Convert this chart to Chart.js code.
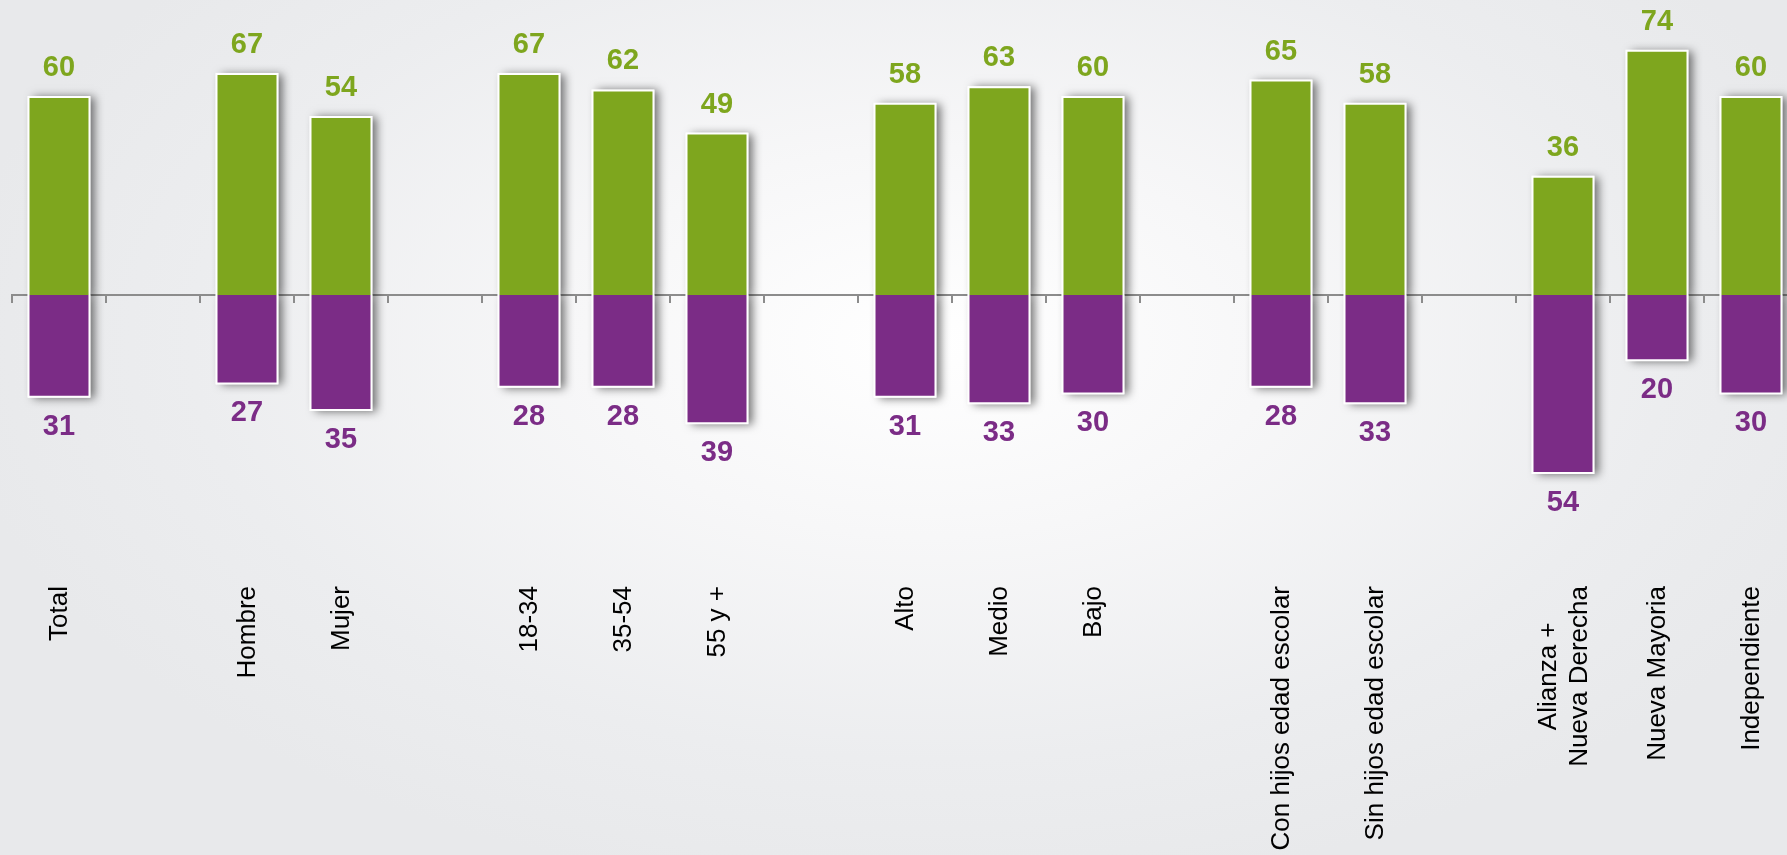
<!DOCTYPE html>
<html lang="es">
<head>
<meta charset="utf-8">
<title>Resultados por segmento</title>
<script src="https://cdn.jsdelivr.net/npm/chart.js@4.4.1/dist/chart.umd.min.js"></script>
<style>
  html, body { margin: 0; padding: 0; width: 1787px; height: 855px; overflow: hidden; }
  body {
    background: radial-gradient(ellipse 55% 65% at 52% 40%, #ffffff 0%, #f7f7f8 35%, #ecedef 75%, #e8e9eb 100%);
  }
  canvas { display: block; }
</style>
</head>
<body>
<canvas id="segChart" width="1800" height="855"></canvas>
<script>
// ── Data ──────────────────────────────────────────────────────
const categories = [
    'Total', '',
    'Hombre', 'Mujer', '',
    '18-34', '35-54', '55 y +', '',
    'Alto', 'Medio', 'Bajo', '',
    'Con hijos edad escolar', 'Sin hijos edad escolar', '',
    ['Alianza +', 'Nueva Derecha'], 'Nueva Mayoria', 'Independiente',
];
const positiveValues = [60, null, 67, 54, null, 67, 62, 49, null, 58, 63, 60, null, 65, 58, null, 36, 74, 60];
const negativeValues = [-31, null, -27, -35, null, -28, -28, -39, null, -31, -33, -30, null, -28, -33, null, -54, -20, -30];

const GREEN  = '#7ea61e';
const PURPLE = '#7b2c86';
const AXIS   = '#8c8c8c';
const FONT   = '"Liberation Sans", Arial, sans-serif';

Chart.defaults.font.family = FONT;

// ── Plugin: bar shadow + value labels ────────────────────────
// (BarElement clips to its own rect, so the shadow is cast by a
//  plain rect drawn underneath each bar)
const barDecor = {
    id: 'barDecor',
    beforeDatasetsDraw(chart) {
        const ctx = chart.ctx;
        ctx.save();
        ctx.shadowColor = 'rgba(0,0,0,0.55)';
        ctx.shadowBlur = 9;
        ctx.shadowOffsetX = 5;
        ctx.shadowOffsetY = 1;
        ctx.fillStyle = '#ffffff';
        chart.data.datasets.forEach((ds, i) => {
            chart.getDatasetMeta(i).data.forEach((bar, j) => {
                if (ds.data[j] == null) return;
                const { x, y, base, width } = bar.getProps(['x', 'y', 'base', 'width']);
                ctx.fillRect(x - width / 2, Math.min(y, base), width, Math.abs(base - y));
            });
        });
        ctx.restore();
    },
    afterDatasetsDraw(chart) {
        const ctx = chart.ctx;
        ctx.save();
        ctx.font = 'bold 29px ' + FONT;
        ctx.textAlign = 'center';
        ctx.textBaseline = 'middle';
        chart.data.datasets.forEach((ds, i) => {
            chart.getDatasetMeta(i).data.forEach((bar, j) => {
                const v = ds.data[j];
                if (v == null) return;
                ctx.fillStyle = ds.backgroundColor;
                const y = v >= 0 ? bar.y - 28 : bar.y + 29;
                ctx.fillText(String(Math.abs(v)), bar.x, y);
            });
        });
        ctx.restore();
    },
};

// ── Plugin: vertical category labels (multi-line centred) ─────
const categoryLabels = {
    id: 'categoryLabels',
    afterDraw(chart) {
        const ctx = chart.ctx;
        const scale = chart.scales.x;
        const top = chart.chartArea.bottom + 6;
        const lineH = 31;
        ctx.save();
        ctx.font = '26px ' + FONT;
        ctx.fillStyle = '#000000';
        ctx.textAlign = 'center';
        ctx.textBaseline = 'middle';
        chart.data.labels.forEach((label, i) => {
            const lines = [].concat(label).filter(Boolean);
            if (!lines.length) return;
            const w = Math.max(...lines.map(l => ctx.measureText(l).width));
            ctx.save();
            ctx.translate(scale.getPixelForTick(i), top);
            ctx.rotate(-Math.PI / 2);
            lines.forEach((line, k) => {
                ctx.fillText(line, -w / 2, (k - (lines.length - 1) / 2) * lineH + 1);
            });
            ctx.restore();
        });
        ctx.restore();
    },
};

// ── Chart ─────────────────────────────────────────────────────
new Chart(document.getElementById('segChart'), {
    type: 'bar',
    data: {
        labels: categories,
        datasets: [
            {
                data: positiveValues,
                backgroundColor: GREEN,
                borderColor: '#ffffff',
                borderWidth: 2,
                barPercentage: 0.67,
                categoryPercentage: 1,
            },
            {
                data: negativeValues,
                backgroundColor: PURPLE,
                borderColor: '#ffffff',
                borderWidth: 2,
                barPercentage: 0.67,
                categoryPercentage: 1,
            },
        ],
    },
    options: {
        responsive: false,
        animation: false,
        layout: { padding: { left: 12, right: 2, top: 0, bottom: 275 } },
        plugins: {
            legend: { display: false },
            tooltip: { enabled: false },
        },
        scales: {
            x: {
                type: 'category',
                position: { y: 0 },
                stacked: true,
                offset: true,
                z: 1,
                grid: {
                    offset: true,
                    drawOnChartArea: false,
                    drawTicks: true,
                    tickLength: 7,
                    color: AXIS,
                    lineWidth: 2,
                },
                border: { display: true, color: AXIS, width: 2 },
                ticks: { display: false },
            },
            y: {
                display: false,
                stacked: true,
                min: -86,
                max: 89,
            },
        },
    },
    plugins: [barDecor, categoryLabels],
});
</script>
</body>
</html>
